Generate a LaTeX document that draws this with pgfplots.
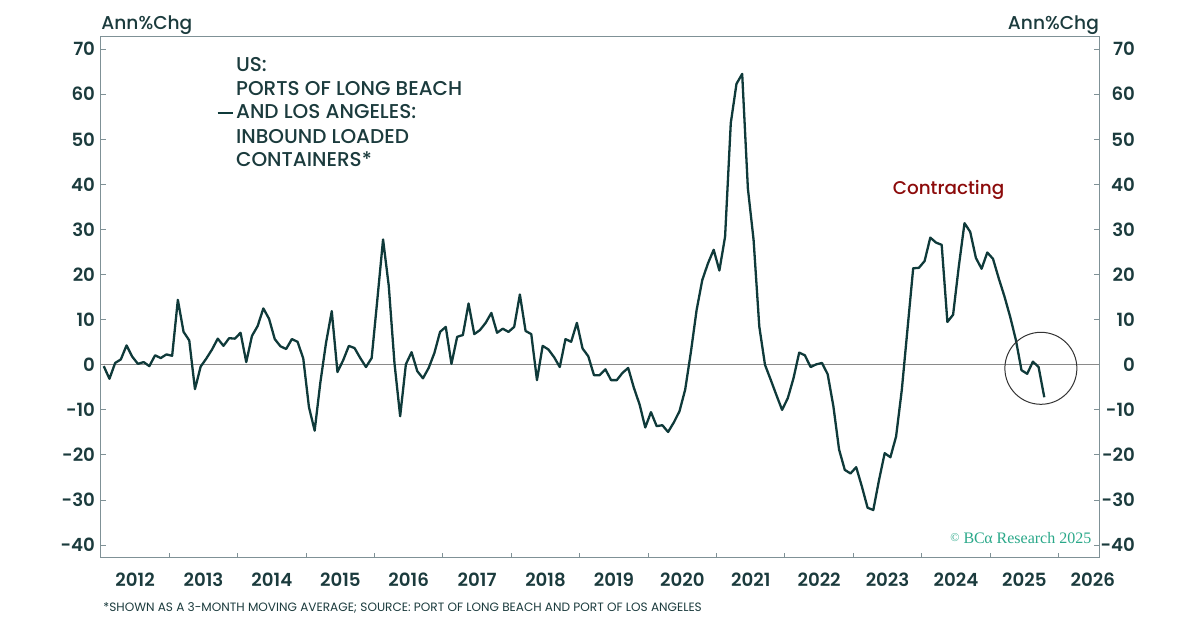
\documentclass[border=0pt]{standalone}
\usepackage{fontspec}
\setmainfont{Poppins}
\newfontfamily\semib{Poppins SemiBold}
\newfontfamily\medf{Poppins Medium}
\newfontfamily\serifb{Liberation Serif}
\usepackage{pgfplots}
\pgfplotsset{compat=1.18}
\usepackage{pgfplotstable}

\definecolor{textcol}{HTML}{1B3B3D}
\definecolor{linecol}{HTML}{0F3A3A}
\definecolor{redcol}{HTML}{8C0B0B}
\definecolor{bcacol}{HTML}{2AA889}
\definecolor{framecol}{HTML}{7F9196}
\definecolor{zerocol}{HTML}{8A8A8A}

\pgfplotstableread{
i v
0 -0.3
1 -3.1
2 0.4
3 1.2
4 4.3
5 1.8
6 0.2
7 0.6
8 -0.3
9 2.1
10 1.5
11 2.3
12 2.0
13 14.4
14 7.3
15 5.4
16 -5.4
17 -0.4
18 1.4
19 3.4
20 5.8
21 4.2
22 5.9
23 5.8
24 7.1
25 0.6
26 6.4
27 8.6
28 12.5
29 10.2
30 5.7
31 4.1
32 3.5
33 5.7
34 5.1
35 1.4
36 -9.4
37 -14.6
38 -3.9
39 4.9
40 11.9
41 -1.6
42 1.0
43 4.2
44 3.7
45 1.5
46 -0.5
47 1.5
48 14.5
49 27.8
50 17.5
51 0.4
52 -11.4
53 0.1
54 2.8
55 -1.4
56 -3.0
57 -0.7
58 2.6
59 7.3
60 8.4
61 0.2
62 6.2
63 6.6
64 13.6
65 6.8
66 7.7
67 9.3
68 11.5
69 7.1
70 8.0
71 7.3
72 8.4
73 15.6
74 7.5
75 6.8
76 -3.4
77 4.2
78 3.4
79 1.7
80 -0.5
81 5.7
82 5.1
83 9.3
84 3.6
85 1.9
86 -2.3
87 -2.3
88 -1.0
89 -3.4
90 -3.4
91 -1.8
92 -0.7
93 -5.1
94 -8.8
95 -13.9
96 -10.5
97 -13.6
98 -13.4
99 -14.9
100 -12.8
101 -10.3
102 -5.5
103 2.8
104 12.1
105 18.8
106 22.5
107 25.5
108 20.9
109 28.4
110 53.6
111 62.3
112 64.5
113 39.1
114 27.7
115 8.5
116 0.0
117 -3.3
118 -6.7
119 -10.0
120 -7.4
121 -3.0
122 2.7
123 2.1
124 -0.5
125 0.1
126 0.4
127 -2.1
128 -9.2
129 -18.8
130 -23.3
131 -24.1
132 -22.7
133 -27.0
134 -31.7
135 -32.2
136 -25.6
137 -19.6
138 -20.5
139 -15.9
140 -5.6
141 7.9
142 21.4
143 21.5
144 23.0
145 28.2
146 27.1
147 26.6
148 9.5
149 11.1
150 21.8
151 31.4
152 29.5
153 23.7
154 21.3
155 24.9
156 23.5
157 19.2
158 15.2
159 10.7
160 5.6
161 -1.2
162 -2.0
163 0.7
164 -0.5
165 -7.2
}\datatable

\begin{document}
\begin{tikzpicture}
\begin{axis}[
  at={(0,0)}, anchor=south west,
  scale only axis, width=499.2bp, height=260.15bp,
  xmin=-0.5, xmax=174.65, ymin=-42.62, ymax=72.75,
  clip=false,
  axis line style={draw=framecol, line width=0.5bp},
  tick align=inside,
  major tick length=2.5bp, minor tick length=2bp,
  xtick={5.5,17.5,...,173.5},
  xticklabels={2012,2013,2014,2015,2016,2017,2018,2019,2020,2021,2022,2023,2024,2025,2026},
  minor xtick={11.5,23.5,...,167.5},
  xtick pos=bottom,
  major x tick style={draw=none},
  minor x tick style={draw=framecol, line width=0.5bp},
  ytick={-40,-30,...,70},
  yticklabels={-40,-30,-20,-10,0,10,20,30,40,50,60,70},
  ytick pos=both, yticklabel pos=left,
  ytick style={draw=framecol, line width=0.5bp},
  xticklabel style={anchor=base, inner sep=0pt, yshift=-14.85bp, text=textcol, font=\semib\fontsize{9.1bp}{10bp}\selectfont},
  yticklabel style={anchor=east, inner sep=0pt, xshift=-2.75bp, text=textcol, font=\semib\fontsize{9.1bp}{10bp}\selectfont},
]
\draw[zerocol, line width=0.5bp] (axis cs:-0.5,0) -- (axis cs:174.65,0);
\addplot[linecol, line width=1.15bp, line join=round] table[x=i,y=v]{\datatable};
\draw[black!80, line width=0.5bp] (axis cs:164.4,-0.78) circle[radius=18bp];
\node[text=redcol, font=\medf\fontsize{9.2bp}{11bp}\selectfont, anchor=center, inner sep=0pt] at (axis cs:148.2,38.76) {Contracting};
\end{axis}
\begin{axis}[
  at={(0,0)}, anchor=south west,
  scale only axis, width=499.2bp, height=260.15bp,
  xmin=-0.5, xmax=174.65, ymin=-42.62, ymax=72.75,
  axis x line=none, axis y line*=right,
  y axis line style={draw=none},
  ytick={-40,-30,...,70},
  yticklabels={-40,-30,-20,-10,0,10,20,30,40,50,60,70},
  ytick style={draw=none},
  yticklabel style={anchor=east, inner sep=0pt, xshift=18bp, text=textcol, font=\semib\fontsize{9.1bp}{10bp}\selectfont},
]
\addplot[draw=none] coordinates {(0,0)};
\end{axis}
\node[anchor=base west, inner sep=0pt, text=textcol, font=\medf\fontsize{9.3bp}{11bp}\selectfont] at (0.05bp,263.5bp) {Ann\%Chg};
\node[anchor=base east, inner sep=0pt, text=textcol, font=\medf\fontsize{9.3bp}{11bp}\selectfont] at (499.2bp,263.5bp) {Ann\%Chg};
\begin{scope}[every node/.style={anchor=base west, inner sep=0pt, text=textcol, font=\medf\fontsize{10bp}{11bp}\selectfont}]
\node at (67.4bp,242.65bp) {US:};
\node at (67.4bp,230.5bp) {PORTS OF LONG BEACH};
\node at (67.4bp,219bp) {AND LOS ANGELES:};
\node at (67.4bp,206.85bp) {INBOUND LOADED};
\node at (67.4bp,195.15bp) {CONTAINERS*};
\end{scope}
\draw[linecol, line width=1.1bp] (58.4bp,221.85bp) -- (65.9bp,221.85bp);
\node[anchor=base east, inner sep=0pt, text=bcacol, font=\serifb\fontsize{8bp}{9bp}\selectfont] at (495.4bp,7bp) {{\fontsize{6bp}{7bp}\selectfont\raisebox{0.6bp}{©}} BC\kern-0.3bp α Research 2025};
\node[anchor=base west, inner sep=0pt, text=textcol, font=\fontsize{6.05bp}{7bp}\selectfont] at (1.05bp,-27bp) {*SHOWN AS A 3-MONTH MOVING AVERAGE; SOURCE: PORT OF LONG BEACH AND PORT OF LOS ANGELES};
\pgfresetboundingbox
\path[use as bounding box] (-50.45bp,-35bp) rectangle (549.55bp,278.5bp);
\end{tikzpicture}
\end{document}
